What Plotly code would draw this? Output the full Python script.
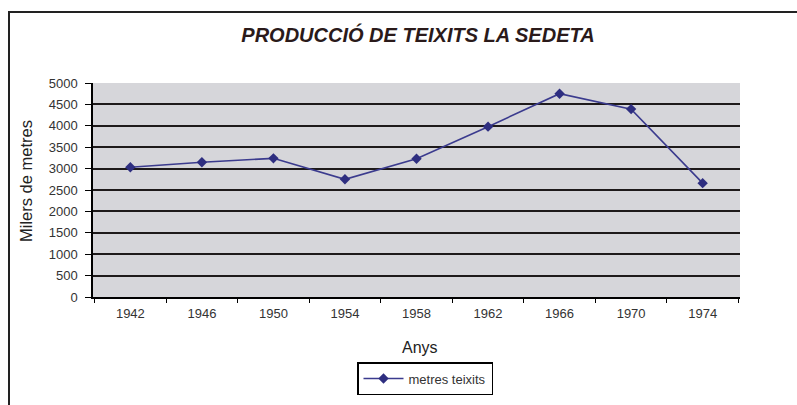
import plotly.graph_objects as go

anys = ["1942", "1946", "1950", "1954", "1958", "1962", "1966", "1970", "1974"]
metres = [3030, 3150, 3240, 2750, 3230, 3980, 4750, 4390, 2660]
y_ticks = [0, 500, 1000, 1500, 2000, 2500, 3000, 3500, 4000, 4500, 5000]

# plot area in the reference: x 93..740, y 83..297
PW, PH = 647, 214

fig = go.Figure(go.Scatter(
    x=anys, y=metres, mode="lines+markers", name="metres teixits",
    line=dict(color="#3b3b8e", width=1.6),
    marker=dict(symbol="diamond", size=8, color="#2e2e80")))

fig.update_layout(
    width=797, height=405,
    margin=dict(l=93, r=57, t=83, b=108, autoexpand=False),
    paper_bgcolor="white", plot_bgcolor="#d6d6da",
    font=dict(family="Liberation Sans, Arial", color="#222"),
    title=dict(text="<b><i>PRODUCCIÓ DE TEIXITS LA SEDETA</i></b>",
               x=(418 - 93) / PW, xanchor="center", xref="paper",
               y=1 - 35 / 405, yanchor="middle", yref="container",
               font=dict(size=20, color="#2a1a1a")),
    showlegend=True,
    legend=dict(x=425 / 797, xanchor="center", xref="container",
                y=1 - 362 / 405, yanchor="top", yref="container",
                bordercolor="black", borderwidth=1.5,
                font=dict(size=13, color="#333"), itemwidth=40),
)

fig.update_xaxes(
    type="category", tickson="boundaries", ticks="outside", ticklen=4,
    tickcolor="black", showline=True, linecolor="black", linewidth=1.5,
    showgrid=False, tickfont=dict(size=13, color="#333"), automargin=False,
    ticklabelstandoff=4)

fig.update_yaxes(
    range=[0, 5000], tickvals=y_ticks, ticks="outside", ticklen=6,
    tickcolor="black", showline=True, linecolor="black", linewidth=1.5,
    showgrid=True, gridcolor="#1e1a1a", gridwidth=2,
    zeroline=False, tickfont=dict(size=13, color="#333"), automargin=False,
    ticklabelstandoff=5)

fig.add_annotation(text="Milers de metres", textangle=-90, showarrow=False,
                   xref="paper", yref="paper",
                   x=(26 - 93) / PW, y=(297 - 181) / PH,
                   xanchor="center", yanchor="middle",
                   font=dict(size=16.5, color="#222"))
fig.add_annotation(text="Anys", showarrow=False,
                   xref="paper", yref="paper",
                   x=(420 - 93) / PW, y=(297 - 347) / PH,
                   xanchor="center", yanchor="middle",
                   font=dict(size=16, color="#222"))

# outer chart frame (left and top edges visible in the scan)
fig.add_shape(type="rect", xref="paper", yref="paper",
              x0=-84 / PW, x1=1.2, y0=-0.6, y1=1 + 71 / PH,
              line=dict(color="#222", width=2), layer="below")

fig.write_html("out.html", config={"displayModeBar": False},
               post_script="document.body.style.margin='0';")
